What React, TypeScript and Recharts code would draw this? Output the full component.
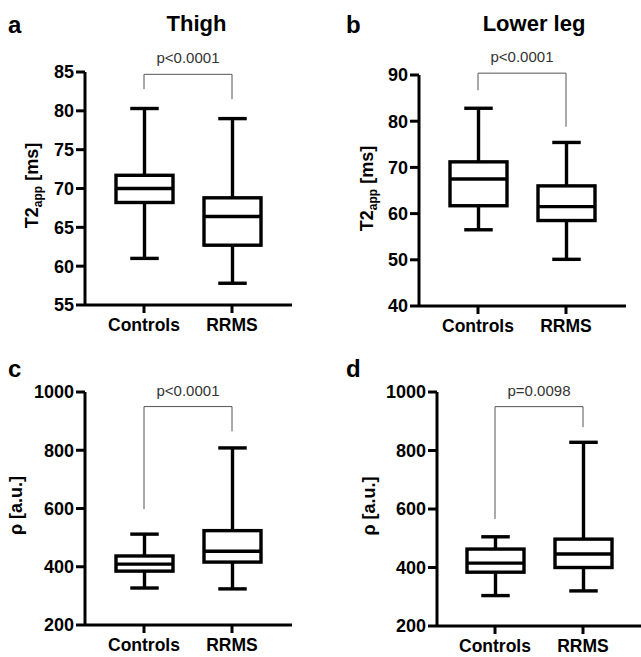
import { ComposedChart, Bar, XAxis, YAxis, ReferenceLine, Label } from 'recharts'

const groups = ['Controls', 'RRMS']

// five-number summaries per group: min, q1, median, q3, max
const thighT2 = [
  [61.0, 68.2, 70.0, 71.7, 80.3],
  [57.8, 62.7, 66.4, 68.8, 79.0],
]
const lowerLegT2 = [
  [56.5, 61.7, 67.5, 71.2, 82.8],
  [50.1, 58.5, 61.5, 66.0, 75.4],
]
const thighRho = [
  [327, 385, 409, 437, 512],
  [324, 416, 453, 524, 808],
]
const lowerLegRho = [
  [304, 384, 415, 463, 505],
  [320, 400, 446, 497, 828],
]

// bracket heights: left foot, top, right foot
const thighT2Bracket = [82.8, 84.7, 81.5]
const lowerLegT2Bracket = [86.7, 90.4, 78.8]
const thighRhoBracket = [598, 950, 865]
const lowerLegRhoBracket = [566, 950, 880]

const pValues = ['p<0.0001', 'p<0.0001', 'p<0.0001', 'p=0.0098']

const t2ThighTicks = [55, 60, 65, 70, 75, 80, 85]
const t2LegTicks = [40, 50, 60, 70, 80, 90]
const rhoTicks = [200, 400, 600, 800, 1000]

const FONT = '"Liberation Sans", Arial, Helvetica, sans-serif'

function BoxShape(props: any) {
  const { x, y, width, height, payload } = props
  if (!payload) return null
  const [min, q1, med, q3, max] = payload.stats
  const top = Math.min(y, y + height)
  const h = Math.abs(height)
  const py = (v: number) => top + ((max - v) / (max - min)) * h
  const cx = x + width / 2
  const cap = width / 4
  const sw = 3.4
  return (
    <g stroke="#000" strokeWidth={sw} fill="none">
      <line x1={cx} x2={cx} y1={py(max)} y2={py(q3)} />
      <line x1={cx} x2={cx} y1={py(q1)} y2={py(min)} />
      <line x1={cx - cap} x2={cx + cap} y1={py(max)} y2={py(max)} />
      <line x1={cx - cap} x2={cx + cap} y1={py(min)} y2={py(min)} />
      <rect x={x} y={py(q3)} width={width} height={py(q1) - py(q3)} fill="#fff" />
      <line x1={x} x2={x + width} y1={py(med)} y2={py(med)} />
    </g>
  )
}

function YLabel({ viewBox, dist, shift, kind }: any) {
  const bx = viewBox.x + viewBox.width - dist
  const cy = viewBox.y + viewBox.height / 2 + shift
  return (
    <text
      x={bx}
      y={cy}
      transform={`rotate(-90, ${bx}, ${cy})`}
      textAnchor="middle"
      fontSize={18}
      fontWeight="bold"
      fontFamily={FONT}
      fill="#000"
    >
      {kind === 't2' ? (
        <>
          T2
          <tspan fontSize={12} dy={4}>app</tspan>
          <tspan dy={-4}> [ms]</tspan>
        </>
      ) : (
        'ρ [a.u.]'
      )}
    </text>
  )
}

interface PanelProps {
  stats: number[][]
  bracket: number[]
  pText: string
  left: number
  top: number
  width: number
  height: number
  margin: { top: number; right: number; bottom: number; left: number }
  yWidth: number
  domain: [number, number]
  ticks: number[]
  pad: { left: number; right: number }
  kind: 't2' | 'rho'
  labelDist: number
  labelShift: number
}

function Panel(p: PanelProps) {
  const data = groups.map((g, i) => ({
    group: g,
    range: [p.stats[i][0], p.stats[i][4]],
    stats: p.stats[i],
  }))
  const [lf, bt, rf] = p.bracket
  const axisStyle = { stroke: '#000', strokeWidth: 3 }
  return (
    <div style={{ position: 'absolute', left: p.left, top: p.top }}>
      <ComposedChart width={p.width} height={p.height} data={data} margin={p.margin}>
        <XAxis
          dataKey="group"
          height={30}
          padding={p.pad}
          tickSize={8}
          tickMargin={6}
          axisLine={axisStyle}
          tickLine={axisStyle}
          tick={{ fontSize: 17.5, fontWeight: 'bold', fill: '#000', fontFamily: FONT }}
        />
        <YAxis
          type="number"
          width={p.yWidth}
          domain={p.domain}
          ticks={p.ticks}
          interval={0}
          allowDataOverflow
          tickSize={9}
          tickMargin={2}
          axisLine={axisStyle}
          tickLine={axisStyle}
          tick={{ fontSize: 18, fontWeight: 'bold', fill: '#000', fontFamily: FONT }}
        >
          <Label
            content={(lp: any) => (
              <YLabel viewBox={lp.viewBox} dist={p.labelDist} shift={p.labelShift} kind={p.kind} />
            )}
          />
        </YAxis>
        <Bar dataKey="range" barSize={57} shape={<BoxShape />} isAnimationActive={false} />
        <ReferenceLine
          segment={[{ x: groups[0], y: lf }, { x: groups[0], y: bt }]}
          stroke="#555"
          strokeWidth={1}
          ifOverflow="visible"
        />
        <ReferenceLine
          segment={[{ x: groups[0], y: bt }, { x: groups[1], y: bt }]}
          stroke="#555"
          strokeWidth={1}
          ifOverflow="visible"
          label={{ value: p.pText, position: 'top', offset: 11, fontSize: 15, fill: '#333', fontFamily: FONT }}
        />
        <ReferenceLine
          segment={[{ x: groups[1], y: bt }, { x: groups[1], y: rf }]}
          stroke="#555"
          strokeWidth={1}
          ifOverflow="visible"
        />
      </ComposedChart>
    </div>
  )
}

export default function App() {
  const pad3 = { left: 15, right: 16 }
  return (
    <div
      style={{
        position: 'absolute',
        left: 0,
        top: 0,
        width: 641,
        height: 657,
        background: '#fff',
        fontFamily: FONT,
        overflow: 'hidden',
      }}
    >
      <Panel
        stats={thighT2}
        bracket={thighT2Bracket}
        pText={pValues[0]}
        left={0}
        top={0}
        width={320}
        height={340}
        margin={{ top: 72, right: 28, bottom: 5, left: 0 }}
        yWidth={85}
        domain={[55, 85]}
        ticks={t2ThighTicks}
        pad={pad3}
        kind="t2"
        labelDist={47}
        labelShift={-3}
      />
      <Panel
        stats={lowerLegT2}
        bracket={lowerLegT2Bracket}
        pText={pValues[1]}
        left={320}
        top={0}
        width={321}
        height={340}
        margin={{ top: 75, right: 15, bottom: 4, left: 0 }}
        yWidth={99}
        domain={[40, 90]}
        ticks={t2LegTicks}
        pad={pad3}
        kind="t2"
        labelDist={46}
        labelShift={-2}
      />
      <Panel
        stats={thighRho}
        bracket={thighRhoBracket}
        pText={pValues[2]}
        left={0}
        top={330}
        width={320}
        height={327}
        margin={{ top: 62, right: 28, bottom: 2, left: 0 }}
        yWidth={85}
        domain={[200, 1000]}
        ticks={rhoTicks}
        pad={pad3}
        kind="rho"
        labelDist={63}
        labelShift={-3}
      />
      <Panel
        stats={lowerLegRho}
        bracket={lowerLegRhoBracket}
        pText={pValues[3]}
        left={320}
        top={330}
        width={321}
        height={327}
        margin={{ top: 62, right: 0, bottom: 1, left: 0 }}
        yWidth={117}
        domain={[200, 1000]}
        ticks={rhoTicks}
        pad={{ left: 14, right: 14 }}
        kind="rho"
        labelDist={62}
        labelShift={-3}
      />
      <svg
        width={641}
        height={657}
        style={{ position: 'absolute', left: 0, top: 0, pointerEvents: 'none' }}
        fontFamily={FONT}
        fontWeight="bold"
      >
        <text x={8} y={33} fontSize={24}>a</text>
        <text x={346} y={33} fontSize={24}>b</text>
        <text x={8} y={377} fontSize={24}>c</text>
        <text x={346} y={377} fontSize={24}>d</text>
        <text x={196.5} y={31} fontSize={22} textAnchor="middle">Thigh</text>
        <text x={534} y={31} fontSize={22} textAnchor="middle">Lower leg</text>
      </svg>
    </div>
  )
}
